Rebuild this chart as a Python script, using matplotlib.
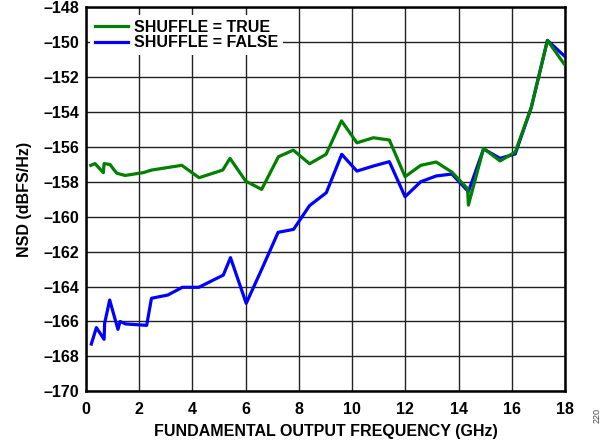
import matplotlib
matplotlib.use("Agg")
import matplotlib.pyplot as plt

plt.rcParams['font.family'] = ['Liberation Sans', 'DejaVu Sans']

# Data
freq_true = [0.18, 0.34, 0.65, 0.68, 0.9, 1.15, 1.47, 2.15, 2.47, 3.6, 4.25, 5.14, 5.41,
             6.0, 6.6, 7.23, 7.79, 8.4, 9.02, 9.6, 10.18, 10.8, 11.4, 11.99, 12.58,
             13.16, 13.75, 14.34, 14.37, 14.94, 15.56, 16.13, 16.73, 17.34, 17.98]
nsd_true = [-157.05, -156.95, -157.47, -156.95, -157.0, -157.5, -157.63, -157.47, -157.32,
            -157.05, -157.76, -157.32, -156.65, -157.95, -158.43, -156.56, -156.18, -156.96,
            -156.42, -154.5, -155.76, -155.47, -155.6, -157.7, -157.05, -156.86, -157.44,
            -158.39, -159.33, -156.08, -156.8, -156.29, -153.75, -149.89, -151.27]

freq_false = [0.2, 0.39, 0.68, 0.7, 0.89, 1.2, 1.28, 1.49, 2.28, 2.46, 3.08, 3.62, 4.24,
              5.16, 5.43, 6.02, 6.62, 7.22, 7.8, 8.4, 9.03, 9.61, 10.18, 10.8, 11.4,
              11.99, 12.58, 13.16, 13.75, 14.37, 14.94, 15.56, 16.13, 16.73, 17.34, 17.98]
nsd_false = [-167.29, -166.35, -167.02, -166.1, -164.77, -166.45, -166.0, -166.14, -166.22,
             -164.67, -164.48, -164.04, -164.04, -163.34, -162.34, -164.96, -162.95, -160.89,
             -160.72, -159.36, -158.62, -156.42, -157.38, -157.09, -156.84, -158.85, -157.99,
             -157.66, -157.55, -158.56, -156.11, -156.65, -156.4, -153.75, -149.89, -150.79]

x_ticks = list(range(0, 19, 2))
y_ticks = list(range(-170, -147, 2))

FS = 11.5

fig = plt.figure(figsize=(6.08, 4.44), dpi=100)
ax = fig.add_axes([86/608, 1 - 391.3/444, (565 - 86)/608, (391.3 - 7.4)/444])

ax.plot(freq_false, nsd_false, color='#0000ff', lw=2.3, label='SHUFFLE = FALSE', zorder=3)
ax.plot(freq_true, nsd_true, color='#008000', lw=2.3, label='SHUFFLE = TRUE', zorder=4)

ax.set_xlim(0, 18)
ax.set_ylim(-170, -148)
ax.set_xticks(x_ticks)
ax.set_yticks(y_ticks)
ax.set_xticklabels([str(t) for t in x_ticks], fontweight='bold', fontsize=FS)
ax.set_yticklabels([('\u2013' + str(-t)) for t in y_ticks], fontweight='bold', fontsize=FS)
ax.tick_params(axis='x', length=0, pad=8)
ax.tick_params(axis='y', length=0, pad=5)
ax.grid(True, color='#222222', lw=1.0)
ax.set_axisbelow(True)
for s in ax.spines.values():
    s.set_linewidth(1.8)
    s.set_color('black')

ax.set_xlabel('FUNDAMENTAL OUTPUT FREQUENCY (GHz)', fontweight='bold', fontsize=FS, labelpad=5)
ax.set_ylabel('NSD (dBFS/Hz)', fontweight='bold', fontsize=FS, labelpad=8)

h, l = ax.get_legend_handles_labels()
leg = ax.legend(h[::-1], l[::-1], loc='upper left', bbox_to_anchor=(0, 0.99),
                frameon=True, framealpha=1,
                edgecolor='none', fancybox=False, prop={'weight': 'bold', 'size': FS},
                handlelength=2.1, borderpad=0.3, labelspacing=0.02, handletextpad=0.35,
                borderaxespad=0.25)
leg.set_zorder(5)

fig.text(597/608, 1 - 415/444, '220', rotation=90, fontsize=6.5, color='#444444',
         ha='center', va='center')

fig.savefig('out.png', dpi=100)
